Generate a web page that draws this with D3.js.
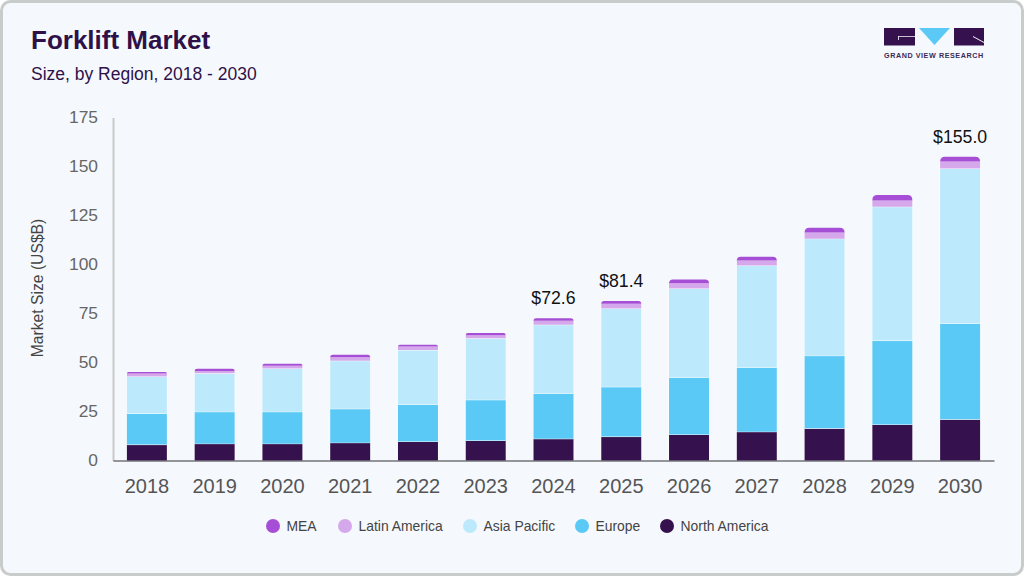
<!DOCTYPE html>
<html>
<head>
<meta charset="utf-8">
<script src="https://cdnjs.cloudflare.com/ajax/libs/d3/7.8.5/d3.min.js"></script>
<style>
html, body { margin: 0; padding: 0; background: #fff; }
svg { display: block; font-family: "Liberation Sans", Arial, sans-serif; }
</style>
</head>
<body>
<div id="chart"></div>
<script>
const years = ["2018","2019","2020","2021","2022","2023","2024","2025","2026","2027","2028","2029","2030"];
const northAmerica = [8.1, 8.6, 8.6, 9.1, 9.7, 10.2, 11.1, 12.2, 13.3, 14.7, 16.4, 18.4, 21.0];
const europe = [15.9, 16.3, 16.3, 17.3, 18.9, 20.8, 23.2, 25.4, 29.1, 32.8, 37.1, 42.8, 49.0];
const asiaPacific = [18.9, 19.6, 22.1, 24.5, 27.8, 31.4, 35.0, 40.0, 45.4, 52.0, 59.7, 68.3, 79.0];
const latinAmerica = [1.5, 1.1, 1.4, 1.8, 1.7, 1.5, 2.0, 2.4, 2.6, 2.5, 3.1, 3.1, 3.5];
const mea = [0.8, 1.2, 1.0, 1.3, 1.0, 1.1, 1.3, 1.4, 2.0, 2.0, 2.4, 2.9, 2.5];
const seriesNames = ["North America", "Europe", "Asia Pacific", "Latin America", "MEA"];
const seriesColors = ["#35114e", "#5bc9f5", "#bce9fb", "#d4a8ea", "#a64fd6"];
const legendOrder = ["MEA", "Latin America", "Asia Pacific", "Europe", "North America"];
const yTicks = [0, 25, 50, 75, 100, 125, 150, 175];
const calloutYears = ["2024", "2025", "2030"];
const calloutLabels = ["$72.6", "$81.4", "$155.0"];

const width = 1024, height = 576;
const svg = d3.select("#chart").append("svg").attr("width", width).attr("height", height);

// card
svg.append("rect").attr("x", 1.5).attr("y", 1.5).attr("width", width - 3).attr("height", height - 3)
  .attr("rx", 9).attr("fill", "#f5f9fd").attr("stroke", "#c8cccb").attr("stroke-width", 3);

// title
svg.append("text").attr("x", 31).attr("y", 49).attr("font-size", 26).attr("font-weight", 700)
  .attr("fill", "#2f1149").text("Forklift Market");
svg.append("text").attr("x", 31).attr("y", 80).attr("font-size", 17.5).attr("fill", "#2f1149").text("Size, by Region, 2018 - 2030");

// logo
const logo = svg.append("g");
logo.append("path").attr("d", "M884 28H915V45.5H884Z").attr("fill", "#35114e");
logo.append("path").attr("d", "M898 36H915V36.8H898.8V40H898Z").attr("fill", "#f5f9fd");
logo.append("path").attr("d", "M919 28H950L934.5 45Z").attr("fill", "#5bc9f5");
logo.append("path").attr("d", "M954 28H984V45.5H954Z").attr("fill", "#35114e");
logo.append("path").attr("d", "M973 36L984 42V43L973 37Z").attr("fill", "#f5f9fd");
logo.append("text").attr("x", 884).attr("y", 57.7).attr("font-size", 7.2).attr("font-weight", 700)
  .attr("letter-spacing", 0.56).attr("fill", "#3d2a55").text("GRAND VIEW RESEARCH");

// scales
const x = d3.scaleBand().domain(years).range([113, 994]).paddingInner(0.41).paddingOuter(0.205);
const y = d3.scaleLinear().domain([0, 175]).range([460.5, 117.5]);

// stacks
const rows = years.map((yr, i) => ({
  year: yr,
  "North America": northAmerica[i],
  "Europe": europe[i],
  "Asia Pacific": asiaPacific[i],
  "Latin America": latinAmerica[i],
  "MEA": mea[i]
}));
const stacked = d3.stack().keys(seriesNames)(rows);
const color = d3.scaleOrdinal().domain(seriesNames).range(seriesColors);

function topRounded(x0, y0, w, h, r) {
  const rr = Math.min(r, h, w / 2);
  return `M${x0} ${y0 + h}V${y0 + rr}Q${x0} ${y0} ${x0 + rr} ${y0}H${x0 + w - rr}Q${x0 + w} ${y0} ${x0 + w} ${y0 + rr}V${y0 + h}Z`;
}

svg.append("g").selectAll("g").data(stacked).join("g")
  .attr("fill", d => color(d.key))
  .each(function(s) {
    const isTop = s.key === "MEA";
    d3.select(this).selectAll("path").data(s).join("path")
      .attr("stroke", isTop ? "none" : "#fff")
      .attr("stroke-width", 1).attr("paint-order", "stroke")
      .attr("d", d => {
        const x0 = x(d.data.year), w = x.bandwidth();
        const yTop = y(d[1]), h = y(d[0]) - y(d[1]);
        if (isTop) return topRounded(x0, yTop, w, h, 5);
        return `M${x0} ${yTop}H${x0 + w}V${yTop + h}H${x0}Z`;
      });
  });

// axes
const yAxis = svg.append("g").attr("transform", "translate(113,-1)")
  .call(d3.axisLeft(y).tickValues(yTicks).tickSize(0).tickPadding(15));
yAxis.select(".domain").attr("transform", "translate(0,1)").attr("stroke", "#c9c9c9").attr("stroke-width", 2);
yAxis.selectAll("text").attr("font-size", 17.4).attr("fill", "#666").attr("font-family", "'Liberation Sans', Arial, sans-serif");

const xAxis = svg.append("g").attr("transform", "translate(0,460.5)")
  .call(d3.axisBottom(x).tickSize(0).tickPadding(18));
xAxis.select(".domain").attr("stroke", "#33333a").attr("stroke-width", 1.2);
xAxis.selectAll("text").attr("font-size", 20).attr("fill", "#555").attr("font-family", "'Liberation Sans', Arial, sans-serif");

svg.append("text").attr("transform", "translate(43,288) rotate(-90)").attr("text-anchor", "middle")
  .attr("font-size", 15.7).attr("fill", "#444").text("Market Size (US$B)");

// callouts
const totals = rows.map(r => d3.sum(seriesNames, k => r[k]));
svg.append("g").selectAll("text").data(calloutYears).join("text")
  .attr("x", d => x(d) + x.bandwidth() / 2)
  .attr("y", d => y(totals[years.indexOf(d)]) - 14)
  .attr("text-anchor", "middle").attr("font-size", 17.7).attr("fill", "#111")
  .text((d, i) => calloutLabels[i]);

// legend
const legendX = [273, 345, 470, 582, 667];
const legend = svg.append("g").selectAll("g").data(legendOrder).join("g")
  .attr("transform", (d, i) => `translate(${legendX[i]},526)`);
legend.append("circle").attr("r", 7).attr("fill", d => color(d));
legend.append("text").attr("x", 13.5).attr("y", 5).attr("font-size", 13.9).attr("fill", "#444").text(d => d);
</script>
</body>
</html>
